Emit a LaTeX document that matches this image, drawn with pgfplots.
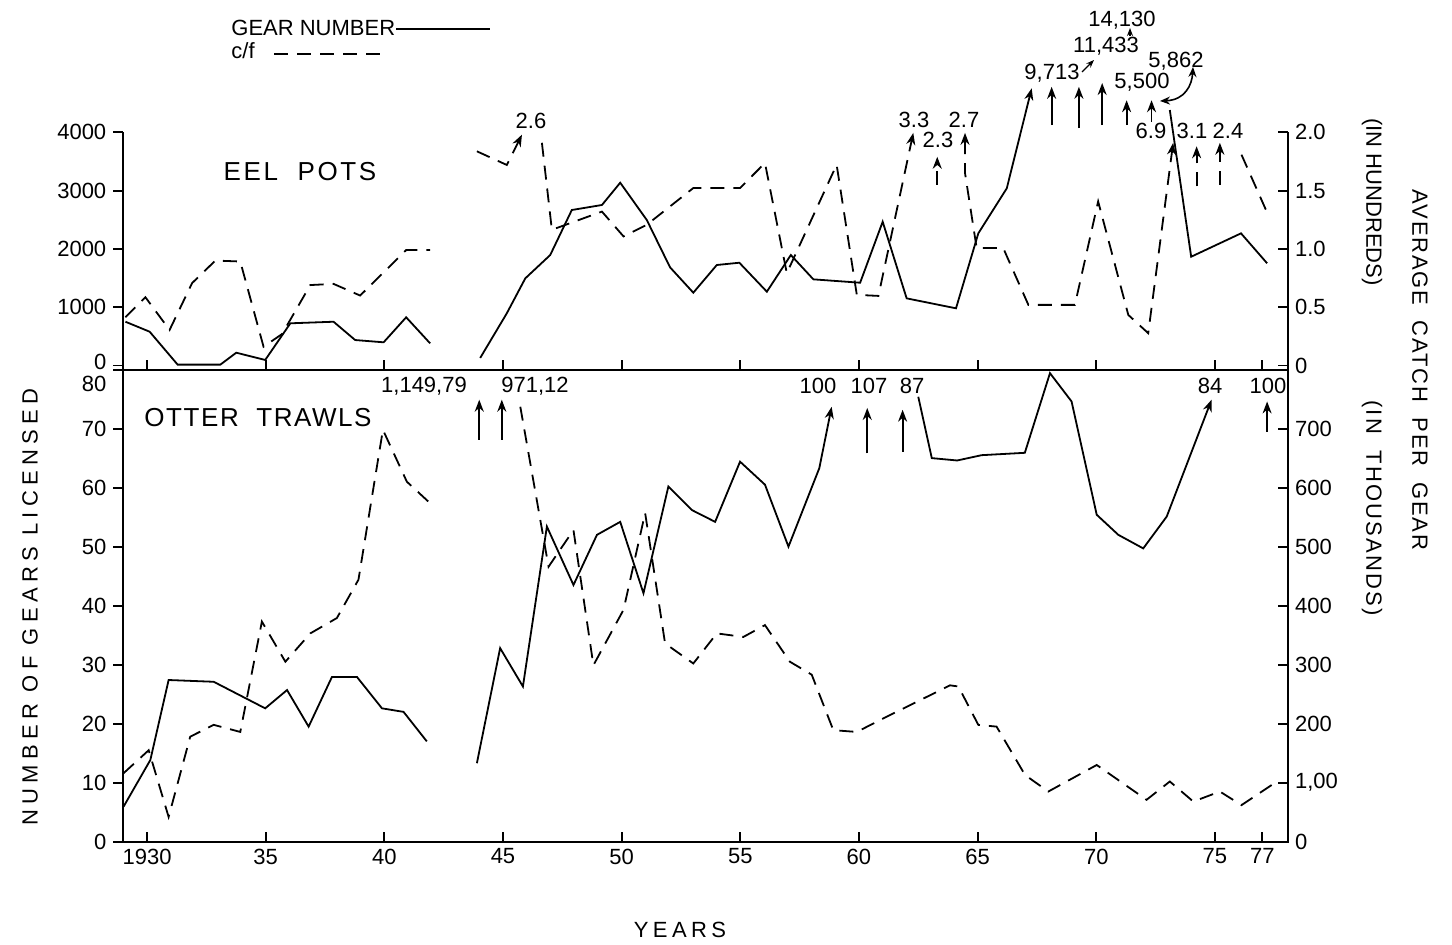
\documentclass[border=0pt]{standalone}
\usepackage{fontspec}
\setmainfont{Liberation Sans}
\newfontfamily\spaced[LetterSpace=20]{Liberation Sans}
\newfontfamily\spacedb[LetterSpace=24]{Liberation Sans}
\newfontfamily\spacedp[LetterSpace=10]{Liberation Sans}
\newfontfamily\spacedq[LetterSpace=6]{Liberation Sans}
\usepackage{pgfplots}
\pgfplotsset{compat=1.18}
\usetikzlibrary{arrows.meta}
\tikzset{
  cf/.style={black, line width=0.9pt, dash pattern=on 7pt off 4.5pt},
  gn/.style={black, line width=0.9pt},
  arr/.style={-{Stealth[length=6pt,width=4.5pt]}},
  darr/.style={{Stealth[length=6pt,width=4.5pt]}-{Stealth[length=6pt,width=4.5pt]}},
}
\pgfplotsset{
  base/.style={
    scale only axis, anchor=south west, width=582.35pt,
    xmin=1929.0, xmax=1978.08, clip=false,
    axis line style={black, line width=0.9pt},
    every tick/.style={black, line width=0.9pt},
    major tick length=5pt,
    tick label style={font=\fontsize{11}{13}\selectfont},
    /pgf/number format/assume math mode=true,
    scaled ticks=false,
    xtick={1930,1935,1940,1945,1950,1955,1960,1965,1970,1975,1977},
  },
}
\begin{document}
\begin{tikzpicture}
\useasboundingbox (0,0) rectangle (726pt,472pt);
% ---------------- TOP PANEL, gear number (left axis)
\begin{axis}[base, at={(61.65pt,287.2pt)}, height=118.65pt,
  ymin=-70, ymax=4000, axis y line*=left, axis x line=none,
  ytick={1000,2000,3000,4000}, yticklabels={1000,2000,3000,4000},
  extra y ticks={0}, extra y tick labels={0},
  extra y tick style={yticklabel style={yshift=2pt}},
  tick align=outside]
\addplot[gn] coordinates {(1929.09,751) (1930.11,580) (1931.29,15) (1933.09,15) (1933.76,220) (1934.98,95) (1936.04,724) (1937.86,751) (1938.77,437) (1939.97,398) (1940.92,827) (1941.93,380)};
\addplot[gn,arr] coordinates {(1944.04,130) (1945.16,895) (1945.94,1495) (1946.99,1895) (1947.9,2667) (1949.17,2753) (1949.94,3135) (1951.06,2496) (1952.04,1684) (1953.02,1249) (1954.01,1724) (1954.96,1763) (1956.12,1266) (1957.13,1895) (1958.08,1478) (1960.05,1420) (1961.0,2466) (1962.01,1152) (1964.09,981) (1965.03,2267) (1966.23,3039) (1967.28,4755)};
\addplot[gn,arr] coordinates {(1968.12,4125) (1968.12,4780)};
\addplot[gn,arr] coordinates {(1969.27,4070) (1969.27,4780)};
\addplot[gn,arr] coordinates {(1970.25,4125) (1970.25,4845)};
\addplot[gn,arr] coordinates {(1971.28,4125) (1971.28,4550)};
\addplot[gn,arr] coordinates {(1972.33,4180) (1972.33,4550)};
\addplot[gn] coordinates {(1973.1,4382) (1974.0,1866) (1976.1,2267) (1977.2,1753)};
\end{axis}
% ---------------- TOP PANEL, c/f (right axis)
\begin{axis}[base, at={(61.65pt,287.2pt)}, height=118.65pt,
  ymin=-0.035, ymax=2.0, axis y line*=right, axis x line*=bottom,
  ytick={0,0.5,1,1.5,2}, yticklabels={0,0.5,1.0,1.5,2.0},
  xticklabels={}, tick align=inside]
\addplot[cf] coordinates {(1929.09,0.414) (1929.93,0.586) (1930.95,0.305) (1931.9,0.707) (1932.88,0.90) (1933.93,0.892) (1934.91,0.161) (1935.69,0.27) (1936.88,0.69) (1937.86,0.70) (1938.98,0.60) (1940.92,0.99) (1941.93,0.99)};
\addplot[cf,arr] coordinates {(1943.9,1.837) (1945.16,1.72) (1945.8,1.98)};
\addplot[cf,arr] coordinates {(1946.64,1.91) (1947.06,1.164) (1949.17,1.32) (1950.08,1.107) (1951.06,1.207) (1953.02,1.522) (1954.99,1.522) (1956.04,1.737) (1956.96,0.792) (1959.06,1.722) (1959.91,0.606) (1960.82,0.597) (1962.29,1.995)};
\addplot[cf,arr] coordinates {(1963.3,1.55) (1963.3,1.79)};
\addplot[cf,darr] coordinates {(1964.47,1.995) (1964.47,1.65) (1964.96,1.007) (1966.08,1.007) (1967.14,0.52) (1969.1,0.52) (1970.08,1.407) (1971.35,0.434) (1972.19,0.277) (1973.24,1.909)};
\addplot[cf,arr] coordinates {(1974.23,1.536) (1974.23,1.88)};
\addplot[cf,arr] coordinates {(1975.21,1.55) (1975.21,1.91)};
\addplot[cf] coordinates {(1976.12,1.808) (1977.18,1.321)};
\end{axis}
% ---------------- BOTTOM PANEL, gear number (left axis)
\begin{axis}[base, at={(61.65pt,51.15pt)}, height=236.05pt,
  ymin=0, ymax=80, axis y line*=left, axis x line=none,
  ytick={0,10,...,70}, yticklabels={0,10,20,30,40,50,60,70},
  extra y ticks={80}, extra y tick labels={80},
  extra y tick style={yticklabel style={yshift=-7pt}},
  tick align=outside]
\addplot[gn] coordinates {(1929.01,5.93) (1930.14,13.85) (1930.91,27.4) (1932.81,27.1) (1934.98,22.6) (1935.9,25.7) (1936.81,19.5) (1937.79,27.9) (1938.85,27.9) (1939.9,22.6) (1940.81,22.0) (1941.79,17.0)};
\addplot[gn,arr] coordinates {(1943.9,13.3) (1944.88,32.8) (1945.84,26.3) (1946.85,53.4) (1947.97,43.5) (1948.96,52.0) (1949.94,54.2) (1950.92,42.1) (1951.97,60.2) (1952.96,56.2) (1953.94,54.2) (1954.99,64.4) (1956.04,60.5) (1957.03,50.0) (1958.33,63.3) (1958.85,73.7)};
\addplot[gn,arr] coordinates {(1944.0,68.1) (1944.0,74.9)};
\addplot[gn,arr] coordinates {(1944.95,68.1) (1944.95,74.9)};
\addplot[gn,arr] coordinates {(1960.35,65.8) (1960.35,73.5)};
\addplot[gn,arr] coordinates {(1961.84,66.1) (1961.84,73.2)};
\addplot[gn,arr] coordinates {(1962.5,75.4) (1963.07,65.0) (1964.14,64.6) (1965.17,65.5) (1966.99,65.9) (1968.05,79.4) (1968.96,74.6) (1970.02,55.4) (1970.93,52.0) (1971.98,49.7) (1972.97,55.1) (1974.86,74.9)};
\addplot[gn,arr] coordinates {(1977.2,69.5) (1977.2,74.6)};
\end{axis}
% ---------------- BOTTOM PANEL, c/f (right axis)
\begin{axis}[base, at={(61.65pt,51.15pt)}, height=236.05pt,
  ymin=0, ymax=800, xtick pos=left, ytick pos=right, yticklabel pos=right,
  ytick={0,100,...,700}, yticklabels={0,{1,00},200,300,400,500,600,700},
  xticklabels={1930,35,40,45,50,55,60,65,70,75,77},
  tick align=inside]
\addplot[cf] coordinates {(1929.01,116) (1930.07,155) (1930.91,42) (1931.82,178) (1932.81,198) (1933.93,186) (1934.84,373) (1935.83,305) (1936.88,353) (1938.0,379) (1938.91,444) (1939.94,698) (1940.95,610) (1942.0,571)};
\addplot[cf] coordinates {(1945.73,737) (1946.92,466) (1947.97,528) (1948.81,299) (1950.08,393) (1950.99,557) (1951.83,336) (1953.02,302) (1954.01,353) (1955.13,347) (1956.04,367) (1957.09,305) (1958.01,283) (1958.92,189) (1959.91,186) (1961.03,209) (1963.84,265) (1964.19,263) (1965.03,198) (1965.8,195) (1967.0,113) (1967.98,85) (1970.02,130) (1972.12,71) (1973.1,102) (1974.09,68) (1975.21,85) (1976.12,62) (1977.39,96)};
\end{axis}
% ---------------- text (pixel frame of the reference)
\begin{scope}[shift={(0pt,472pt)}, x=0.5pt, y=-0.5pt, font=\fontsize{11}{13}\selectfont]
\node[anchor=west, inner sep=0] at (231,28) {GEAR NUMBER};
\draw[gn] (396,29) -- (490,29);
\node[anchor=west, inner sep=0] at (231,51) {c/f};
\draw[cf] (274,54) -- (386,54);
\node at (300,172) {\fontsize{13}{15}\spacedp EEL\ \ POTS};
\node at (258,418) {\fontsize{13}{15}\spacedq OTTER\ \ TRAWLS};
\node at (680,930) {\spaced YEARS};
\node[rotate=90] at (30,607) {\spacedb NUMBER OF GEARS LICENSED};
\node[rotate=-90] at (1420,370) {\addfontfeature{LetterSpace=8}AVERAGE\ \ CATCH\ \ PER\ \ GEAR};
\node[rotate=-90] at (1372,202) {(IN HUNDREDS)};
\node[rotate=-90] at (1372,508) {\addfontfeature{LetterSpace=10}(IN\ \ THOUSANDS)};
% top annotations
\node at (531,121) {2.6};
\node at (914,120) {3.3};
\node at (938,140) {2.3};
\node at (964,120) {2.7};
\node at (1052,73) {9,713};
\node at (1106,46) {11,433};
\node at (1122,20) {14,130};
\node at (1142,82) {5,500};
\node at (1176,61) {5,862};
\node at (1151,131) {6.9};
\node at (1192,131) {3.1};
\node at (1228,131) {2.4};
\draw[line width=0.6pt, -{Stealth[length=4pt,width=3pt]}] (1082,72) -- (1094,60);
\draw[line width=0.6pt, -{Stealth[length=4pt,width=3pt]}] (1130,36) -- (1130,28);
\draw[line width=0.8pt, {Stealth[length=5pt,width=4pt]}-{Stealth[length=5pt,width=4pt]}] (1160,101) .. controls (1185,100) and (1192,85) .. (1193,67);
% bottom annotations
\node at (424,386) {1,149,79};
\node at (535,386) {971,12};
\node at (818,386) {100};
\node at (869,386) {107};
\node at (912,386) {87};
\node at (1210,386) {84};
\node at (1268,386) {100};
\end{scope}
\end{tikzpicture}
\end{document}
